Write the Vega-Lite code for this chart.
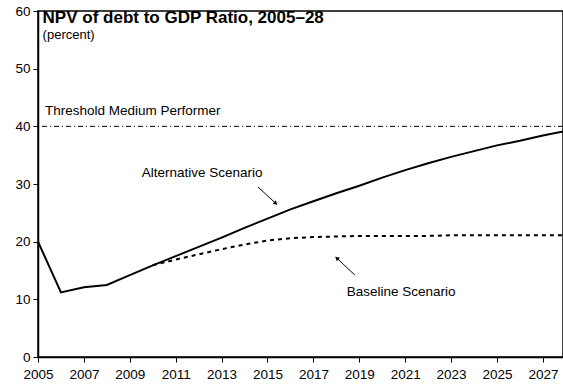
{
  "$schema": "https://vega.github.io/schema/vega-lite/v6.json",
  "width": 525,
  "height": 346,
  "autosize": {"type": "none"},
  "padding": {"left": 38, "top": 11, "right": 0, "bottom": 30},
  "config": {
    "view": {"stroke": "black", "strokeWidth": 1.5},
    "font": "Liberation Sans",
    "axis": {"grid": false, "domainColor": "black", "tickColor": "black", "labelColor": "black", "labelFont": "Liberation Sans", "labelFontSize": 13.5, "domainWidth": 1.5, "tickWidth": 1, "tickSize": 5, "title": null}
  },
  "layer": [
    {
      "data": {"values": [{"y": 40}]},
      "mark": {"type": "rule", "color": "black", "strokeWidth": 1, "strokeDash": [5, 3, 1, 3]},
      "encoding": {
        "y": {"field": "y", "type": "quantitative", "scale": {"domain": [0, 60], "nice": false}, "axis": {"values": [0, 10, 20, 30, 40, 50, 60], "labelPadding": 3}}
      }
    },
    {
      "data": {"values": [
        {"year": 2010, "value": 15.9}, {"year": 2011, "value": 16.9}, {"year": 2012, "value": 17.8},
        {"year": 2013, "value": 18.7}, {"year": 2014, "value": 19.5}, {"year": 2015, "value": 20.2},
        {"year": 2016, "value": 20.6}, {"year": 2017, "value": 20.8}, {"year": 2018, "value": 20.9},
        {"year": 2019, "value": 21.0}, {"year": 2020, "value": 21.0}, {"year": 2021, "value": 21.0},
        {"year": 2022, "value": 21.0}, {"year": 2023, "value": 21.1}, {"year": 2024, "value": 21.1},
        {"year": 2025, "value": 21.1}, {"year": 2026, "value": 21.1}, {"year": 2027, "value": 21.1},
        {"year": 2028, "value": 21.1}
      ]},
      "mark": {"type": "line", "color": "black", "strokeWidth": 2, "strokeDash": [4, 4], "clip": true},
      "encoding": {
        "x": {"field": "year", "type": "quantitative", "scale": {"domain": [2005, 2027.876], "nice": false, "zero": false}, "axis": {"values": [2005, 2007, 2009, 2011, 2013, 2015, 2017, 2019, 2021, 2023, 2025, 2027], "format": "d", "labelPadding": 5, "labelFlush": false}},
        "y": {"field": "value", "type": "quantitative"}
      }
    },
    {
      "data": {"values": [
        {"year": 2005, "value": 20.0}, {"year": 2006, "value": 11.2}, {"year": 2007, "value": 12.1},
        {"year": 2008, "value": 12.5}, {"year": 2009, "value": 14.2}, {"year": 2010, "value": 15.9},
        {"year": 2011, "value": 17.5}, {"year": 2012, "value": 19.1}, {"year": 2013, "value": 20.7},
        {"year": 2014, "value": 22.4}, {"year": 2015, "value": 24.0}, {"year": 2016, "value": 25.6},
        {"year": 2017, "value": 27.0}, {"year": 2018, "value": 28.4}, {"year": 2019, "value": 29.7},
        {"year": 2020, "value": 31.1}, {"year": 2021, "value": 32.4}, {"year": 2022, "value": 33.6},
        {"year": 2023, "value": 34.7}, {"year": 2024, "value": 35.7}, {"year": 2025, "value": 36.7},
        {"year": 2026, "value": 37.5}, {"year": 2027, "value": 38.4}, {"year": 2028, "value": 39.2}
      ]},
      "mark": {"type": "line", "color": "black", "strokeWidth": 2, "clip": true},
      "encoding": {
        "x": {"field": "year", "type": "quantitative"},
        "y": {"field": "value", "type": "quantitative"}
      }
    },
    {
      "data": {"values": [
        {"x1": 2014.59, "y1": 29.46, "x2": 2015.40, "y2": 26.5},
        {"x1": 2018.81, "y1": 14.2, "x2": 2017.98, "y2": 17.3}
      ]},
      "mark": {"type": "rule", "color": "black", "strokeWidth": 1},
      "encoding": {
        "x": {"field": "x1", "type": "quantitative"},
        "y": {"field": "y1", "type": "quantitative"},
        "x2": {"field": "x2"},
        "y2": {"field": "y2"}
      }
    },
    {
      "data": {"values": [
        {"x": 2015.36, "y": 26.65, "angle": 132},
        {"x": 2018.02, "y": 17.15, "angle": 313}
      ]},
      "mark": {"type": "point", "shape": "triangle-up", "filled": true, "color": "black", "size": 22, "opacity": 1},
      "encoding": {
        "x": {"field": "x", "type": "quantitative"},
        "y": {"field": "y", "type": "quantitative"},
        "angle": {"field": "angle", "type": "quantitative", "scale": null}
      }
    },
    {
      "data": {"values": [
        {"x": 2005.2, "y": 58.85, "text": "NPV of debt to GDP Ratio, 2005–28"}
      ]},
      "mark": {"type": "text", "align": "left", "baseline": "middle", "fontSize": 17, "fontWeight": "bold", "color": "black"},
      "encoding": {
        "x": {"field": "x", "type": "quantitative"},
        "y": {"field": "y", "type": "quantitative"},
        "text": {"field": "text"}
      }
    },
    {
      "data": {"values": [
        {"x": 2005.2, "y": 55.9, "text": "(percent)"}
      ]},
      "mark": {"type": "text", "align": "left", "baseline": "middle", "fontSize": 13, "color": "black"},
      "encoding": {
        "x": {"field": "x", "type": "quantitative"},
        "y": {"field": "y", "type": "quantitative"},
        "text": {"field": "text"}
      }
    },
    {
      "data": {"values": [
        {"x": 2005.3, "y": 42.7, "text": "Threshold Medium Performer"},
        {"x": 2009.52, "y": 31.9, "text": "Alternative Scenario"},
        {"x": 2018.45, "y": 11.3, "text": "Baseline Scenario"}
      ]},
      "mark": {"type": "text", "align": "left", "baseline": "middle", "fontSize": 13.5, "color": "black"},
      "encoding": {
        "x": {"field": "x", "type": "quantitative"},
        "y": {"field": "y", "type": "quantitative"},
        "text": {"field": "text"}
      }
    }
  ]
}
